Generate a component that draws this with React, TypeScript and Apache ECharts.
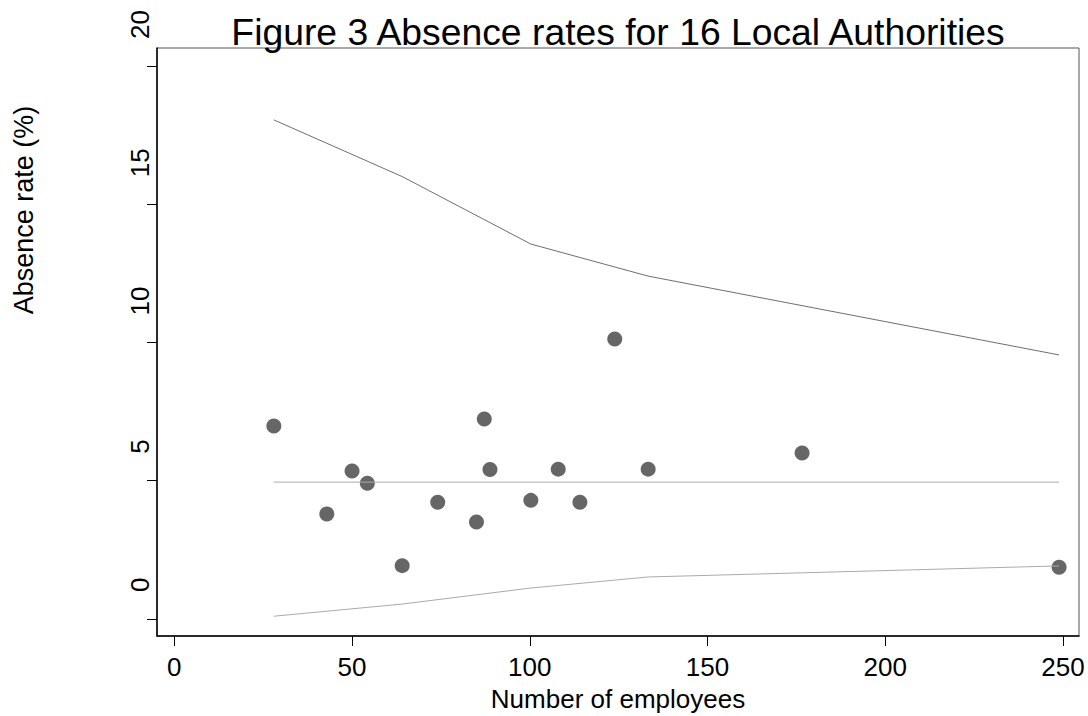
import React, { useEffect, useRef } from "react";
import * as echarts from "echarts";

const employees = [28.0, 42.9, 50.0, 54.3, 64.1, 74.1, 85.0, 87.2, 88.8, 100.3, 108.0, 114.1, 123.9, 133.3, 176.6, 248.9];
const absence = [6.98, 3.8, 5.35, 4.91, 1.93, 4.22, 3.51, 7.23, 5.41, 4.29, 5.42, 4.22, 10.13, 5.42, 6.0, 1.87];

const limitX = [28.0, 64.1, 100.3, 133.3, 248.9];
const upperLimit = [18.05, 16.0, 13.56, 12.4, 9.55];
const lowerLimit = [0.1, 0.54, 1.12, 1.52, 1.92];
const meanRate = 4.95;

const xTicks = [0, 50, 100, 150, 200, 250];
const yTicks = [0, 5, 10, 15, 20];

const FONT = "'Liberation Sans', Arial, sans-serif";

export default function App() {
  const ref = useRef<HTMLDivElement>(null);
  useEffect(() => {
    if (!ref.current) return;
    const chart = echarts.init(ref.current, undefined, { renderer: "svg" });
    const pairs = (xs: number[], ys: number[]) => xs.map((x, i) => [x, ys[i]]);
    chart.setOption({
      animation: false,
      backgroundColor: "#ffffff",
      textStyle: { fontFamily: FONT },
      title: {
        text: "Figure 3 Absence rates for 16 Local Authorities",
        left: 613,
        textAlign: "center",
        top: 8,
        textStyle: { fontFamily: FONT, fontSize: 37.3, fontWeight: "normal", color: "#000" },
      },
      grid: {
        left: 157,
        top: 48,
        right: 9,
        bottom: 80,
        outerBoundsMode: "none",
        containLabel: false,
        show: true,
        borderColor: "#555",
        borderWidth: 1,
      },
      xAxis: {
        type: "value",
        min: -4.87,
        max: 254.5,
        name: "Number of employees",
        nameLocation: "middle",
        nameGap: 50,
        nameTextStyle: { fontFamily: FONT, fontSize: 26, color: "#000" },
        axisLine: { show: true, onZero: false, lineStyle: { color: "#000", width: 1.5 } },
        axisTick: { show: true, length: 10, customValues: xTicks, lineStyle: { color: "#000" } },
        axisLabel: {
          customValues: xTicks,
          margin: 18,
          fontFamily: FONT,
          fontSize: 26,
          color: "#000",
        },
        splitLine: { show: false },
      },
      yAxis: {
        type: "value",
        min: -0.615,
        max: 20.65,
        name: "Absence rate (%)",
        nameLocation: "middle",
        nameGap: 120,
        nameTextStyle: { fontFamily: FONT, fontSize: 27, color: "#000", padding: [0, 0, 0, 264] },
        axisLine: { show: true, onZero: false, lineStyle: { color: "#000", width: 1.5 } },
        axisTick: { show: true, length: 10, customValues: yTicks, lineStyle: { color: "#000" } },
        axisLabel: {
          customValues: yTicks,
          rotate: 90,
          align: "left",
          verticalAlign: "bottom",
          padding: [0, 0, 0, 27],
          margin: 4,
          fontFamily: FONT,
          fontSize: 26,
          color: "#000",
        },
        splitLine: { show: false },
      },
      series: [
        {
          type: "line",
          data: pairs(limitX, upperLimit),
          symbol: "none",
          lineStyle: { color: "#6e6e6e", width: 1 },
          silent: true,
        },
        {
          type: "line",
          data: [
            [limitX[0], meanRate],
            [limitX[limitX.length - 1], meanRate],
          ],
          symbol: "none",
          lineStyle: { color: "#aaa", width: 1 },
          silent: true,
        },
        {
          type: "line",
          data: pairs(limitX, lowerLimit),
          symbol: "none",
          lineStyle: { color: "#aaa", width: 1 },
          silent: true,
        },
        {
          type: "scatter",
          data: pairs(employees, absence),
          symbol: "circle",
          symbolSize: 15,
          itemStyle: { color: "#666", opacity: 1 },
        },
      ],
    });
    return () => chart.dispose();
  }, []);
  return (
    <div
      ref={ref}
      style={{ position: "fixed", left: 0, top: 0, width: 1088, height: 716 }}
    />
  );
}
